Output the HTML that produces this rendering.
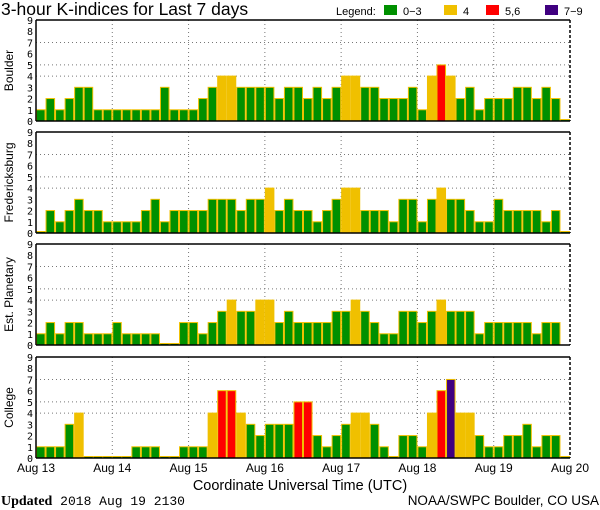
<!DOCTYPE html>
<html><head><meta charset="utf-8"><style>
body{margin:0;background:#fff;}
svg{display:block;font-family:"DejaVu Sans Mono","Liberation Mono",monospace;}
</style></head><body>
<svg id="chart" width="600" height="510" viewBox="0 0 600 510" xmlns="http://www.w3.org/2000/svg">
<text x="1" y="15" font-size="17.5" font-family="Liberation Sans, sans-serif">3-hour K-indices for Last 7 days</text>
<g font-size="11" font-family="Liberation Sans, sans-serif">
<text x="336" y="15">Legend:</text>
<rect x="384" y="5" width="13" height="10" fill="#009000"/><text x="403" y="15">0−3</text>
<rect x="444" y="5" width="13" height="10" fill="#f0c000"/><text x="463" y="15">4</text>
<rect x="486" y="5" width="13" height="10" fill="#ff0000"/><text x="505" y="15">5,6</text>
<rect x="545" y="5" width="13" height="10" fill="#400080"/><text x="564" y="15">7−9</text>
</g>
<g id="panels"></g>
<g font-size="12" font-family="Liberation Sans, sans-serif" id="xaxis"></g>
<text x="300" y="490" text-anchor="middle" font-size="14.5" font-family="Liberation Sans, sans-serif">Coordinate Universal Time (UTC)</text>
<text x="1" y="505" font-size="13" font-family="Liberation Mono, monospace"><tspan font-weight="bold" font-family="Liberation Serif, serif" font-size="14">Updated</tspan> 2018 Aug 19 2130</text>
<text x="599" y="505" text-anchor="end" font-size="13.5" font-family="Liberation Sans, sans-serif">NOAA/SWPC Boulder, CO USA</text>
</svg>
<script>
const stations = ["Boulder","Fredericksburg","Est. Planetary","College"];
const boulder = [1,2,1,2,3,3,1,1, 1,1,1,1,1,3,1,1, 1,2,3,4,4,3,3,3, 3,2,3,3,2,3,2,3, 4,4,3,3,2,2,2,3, 1,4,5,4,2,3,1,2, 2,2,3,3,2,3,2,0];
const fredericksburg = [0,2,1,2,3,2,2,1, 1,1,1,2,3,1,2,2, 2,2,3,3,3,2,3,3, 4,2,3,2,2,1,2,3, 4,4,2,2,2,1,3,3, 1,3,4,3,3,2,1,1, 3,2,2,2,2,1,2,0];
const planetary = [1,2,1,2,2,1,1,1, 2,1,1,1,1,0,0,2, 2,1,2,3,4,3,3,4, 4,2,3,2,2,2,2,3, 3,4,3,2,1,1,3,3, 2,3,4,3,3,3,1,2, 2,2,2,2,1,2,2,null];
const college = [1,1,1,3,4,0,0,0, 0,0,1,1,1,0,0,1, 1,1,4,6,6,4,3,2, 3,3,3,5,5,2,1,2, 3,4,4,3,1,0,2,2, 1,4,6,7,4,4,2,1, 1,2,2,3,1,2,2,0];
const series = [boulder, fredericksburg, planetary, college];
const dayLabels = ["Aug 13","Aug 14","Aug 15","Aug 16","Aug 17","Aug 18","Aug 19","Aug 20"];
const yTicks = [0,1,2,3,4,5,6,7,8,9];

const NS="http://www.w3.org/2000/svg";
const X0=36, X1=570, N=56, bw=(X1-X0)/N;
const tops=[20,132,244,357], H=101;
function xs(i){return X0+i*bw;}
function color(k){return k<=3?"#009000":k==4?"#f0c000":k<=6?"#ff0000":"#400080";}
function mk(tag,attrs,parent){const e=document.createElementNS(NS,tag);for(const a in attrs)e.setAttribute(a,attrs[a]);parent.appendChild(e);return e;}
const pg=document.getElementById("panels");
series.forEach((vals,p)=>{
  const top=tops[p], bot=top+H;
  const ys=k=>bot-k*(H/9);
  const g=mk("g",{},pg);
  
  
  [4,5,7].forEach(k=>{const l=mk("line",{x1:X0,x2:X1,y1:ys(k),y2:ys(k),stroke:"#777","stroke-dasharray":"1,3"},g);
    
    });
  for(let d=1;d<7;d++){const l=mk("line",{x1:xs(d*8),x2:xs(d*8),y1:top,y2:bot,stroke:"#777","stroke-dasharray":"1,3"},g);
    
    }
  vals.forEach((v,i)=>{
    if(v===null)return;
    const hgt=Math.max(v*(H/9),1.5);
    const r=mk("rect",{x:xs(i)+0.5,y:bot-hgt,width:bw-1,height:hgt,fill:color(v),stroke:"#f0c000","stroke-width":1},g);
    
    
  });
  mk("line",{x1:X0,x2:X1,y1:top,y2:top,stroke:"#000","stroke-width":1.5},g);
  mk("line",{x1:X0,x2:X1,y1:bot,y2:bot,stroke:"#000","stroke-width":1.5},g);
  mk("line",{x1:X0,x2:X0,y1:top,y2:bot,stroke:"#000","stroke-width":1.5},g);
  mk("line",{x1:X1,x2:X1,y1:top,y2:bot,stroke:"#000","stroke-width":1.5,"stroke-dasharray":"3,2"},g);
  yTicks.forEach(k=>{const t=mk("text",{x:33,y:ys(k)+4,"text-anchor":"end","font-size":"10"},g);t.textContent=k;
    
    });
  const lab=mk("text",{x:0,y:0,"text-anchor":"middle","font-size":"12","font-family":"Liberation Sans, sans-serif",transform:`translate(13,${top+H/2}) rotate(-90)`},g);
  lab.textContent=stations[p];
  
  
});
const xa=document.getElementById("xaxis");
dayLabels.forEach((d,i)=>{const t=mk("text",{x:xs(i*8),y:472,"text-anchor":"middle"},xa);t.textContent=d;
  
  });
</script>
</body></html>
